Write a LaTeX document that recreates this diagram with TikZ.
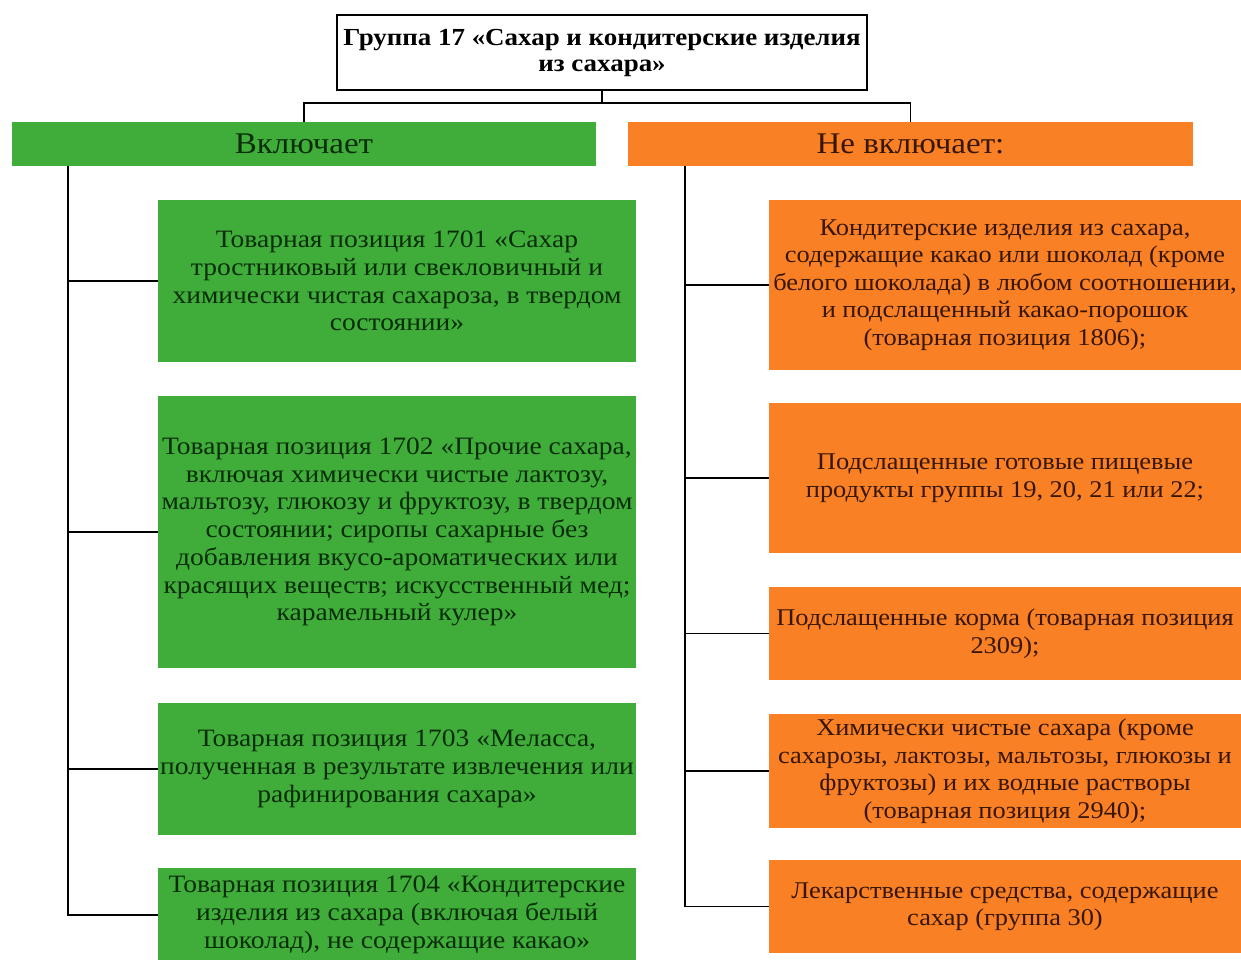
\documentclass[tikz,border=0pt]{standalone}
\usepackage{fontspec}
\setmainfont{Liberation Serif}[FakeStretch=1.1]
\definecolor{gbox}{RGB}{64,173,58}
\definecolor{obox}{RGB}{250,128,38}
\definecolor{gtext}{RGB}{8,45,8}
\definecolor{otext}{RGB}{55,22,0}
\tikzset{
  gitem/.style={fill=gbox, draw=none, text=gtext, align=center, inner sep=0pt,
    font=\fontsize{25}{27.7}\selectfont},
  oitem/.style={fill=obox, draw=none, text=otext, align=center, inner sep=0pt,
    minimum width=472pt, font=\fontsize{24}{27.5}\selectfont},
  hdr/.style={draw=none, inner sep=0pt, font=\fontsize{30}{32}\selectfont},
  link/.style={draw=black, line width=1.6pt},
}
\begin{document}
\begin{tikzpicture}[x=1pt,y=-1pt]
\useasboundingbox (0,0) rectangle (1241,960);
% title
\node[draw=black, line width=1.6pt, fill=white, minimum width=530pt, minimum height=75pt,
  align=center, inner sep=0pt, font=\bfseries\fontsize{24.5}{26}\selectfont]
  (t) at (602,52.5) {Группа 17 «Сахар и кондитерские изделия\\из сахара»};
% headers
\node[hdr, fill=gbox, text=gtext, minimum width=584pt, minimum height=44pt] (inc) at (304,144) {Включает};
\node[hdr, fill=obox, text=otext, minimum width=565pt, minimum height=44pt] (exc) at (910.5,144) {Не включает:};
% green items
\node[gitem, minimum width=478pt, minimum height=162pt] (g1) at (397,281)
 {Товарная позиция 1701 «Сахар\\тростниковый или свекловичный и\\химически чистая сахароза, в твердом\\состоянии»};
\node[gitem, minimum width=478pt, minimum height=272pt] (g2) at (397,532)
 {Товарная позиция 1702 «Прочие сахара,\\включая химически чистые лактозу,\\мальтозу, глюкозу и фруктозу, в твердом\\состоянии; сиропы сахарные без\\добавления вкусо-ароматических или\\красящих веществ; искусственный мед;\\карамельный кулер»};
\node[gitem, minimum width=478pt, minimum height=132pt] (g3) at (397,769)
 {Товарная позиция 1703 «Меласса,\\полученная в результате извлечения или\\рафинирования сахара»};
\node[gitem, minimum width=478pt, minimum height=94pt] (g4) at (397,915)
 {Товарная позиция 1704 «Кондитерские\\изделия из сахара (включая белый\\шоколад), не содержащие какао»};
% orange items
\node[oitem, minimum height=170pt] (o1) at (1005,285)
 {Кондитерские изделия из сахара,\\содержащие какао или шоколад (кроме\\белого шоколада) в любом соотношении,\\и подслащенный какао-порошок\\(товарная позиция 1806);};
\node[oitem, minimum height=150pt] (o2) at (1005,478)
 {Подслащенные готовые пищевые\\продукты группы 19, 20, 21 или 22;};
\node[oitem, minimum height=93pt] (o3) at (1005,633.5)
 {Подслащенные корма (товарная позиция\\2309);};
\node[oitem, minimum height=114pt] (o4) at (1005,771)
 {Химически чистые сахара (кроме\\сахарозы, лактозы, мальтозы, глюкозы и\\фруктозы) и их водные растворы\\(товарная позиция 2940);};
\node[oitem, minimum height=93pt] (o5) at (1005,906.5)
 {Лекарственные средства, содержащие\\сахар (группа 30)};
% connectors
\coordinate (j) at (602,103);
\draw[link] (t.south) -- (j);
\draw[link] (inc.north) |- (j) -| (exc.north);
\coordinate (ls) at (68,166);
\coordinate (rs) at (685,166);
\draw[link] (ls) |- (g4.west);
\draw[link] (ls |- g1.west) -- (g1.west);
\draw[link] (ls |- g2.west) -- (g2.west);
\draw[link] (ls |- g3.west) -- (g3.west);
\draw[link] (rs) |- (o5.west);
\draw[link] (rs |- o1.west) -- (o1.west);
\draw[link] (rs |- o2.west) -- (o2.west);
\draw[link] (rs |- o3.west) -- (o3.west);
\draw[link] (rs |- o4.west) -- (o4.west);
\end{tikzpicture}
\end{document}
